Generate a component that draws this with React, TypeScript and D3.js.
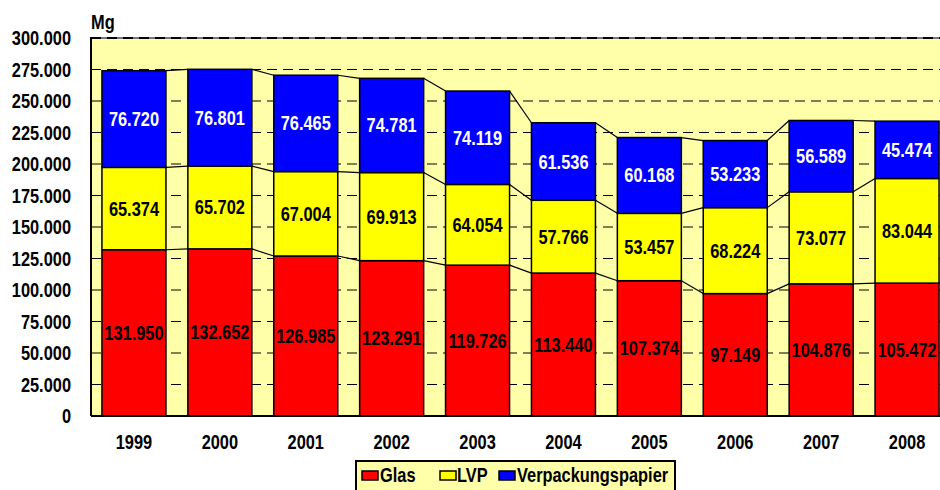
import React from 'react';
import * as d3 from 'd3';

const years = ['1999', '2000', '2001', '2002', '2003', '2004', '2005', '2006', '2007', '2008'];
const glas = [131950, 132652, 126985, 123291, 119726, 113440, 107374, 97149, 104876, 105472];
const lvp = [65374, 65702, 67004, 69913, 64054, 57766, 53457, 68224, 73077, 83044];
const papier = [76720, 76801, 76465, 74781, 74119, 61536, 60168, 53233, 56589, 45474];
const yTicks = [0, 25000, 50000, 75000, 100000, 125000, 150000, 175000, 200000, 225000, 250000, 275000, 300000];
const seriesNames = ['Glas', 'LVP', 'Verpackungspapier'];
const seriesColors = ['#FF0000', '#FFFF00', '#0000FF'];
const labelColors = ['#000', '#000', '#fff'];

const FONT = '"Liberation Sans", Arial, sans-serif';
const BG = '#FFFFAA';
const NARROW = 0.82; // no narrow font installed, squeeze Liberation Sans instead

const de = d3.formatLocale({decimal: ',', thousands: '.', grouping: [3], currency: ['', '€']});
const fmt = de.format(',d');

function NText(props: {x: number, y: number, size: number, anchor?: string, fill?: string, children: any}) {
  return (
    <text transform={`translate(${props.x},${props.y}) scale(${NARROW},1)`}
      textAnchor={props.anchor || 'start'} fontSize={props.size} fill={props.fill || '#000'}>
      {props.children}
    </text>
  );
}

export default function App() {
  const width = 940, height = 490;
  const left = 91, top = 38, bottom = 416;
  const plotRight = 950; // plot runs past the picture edge

  const x = d3.scaleBand<string>()
    .domain(years)
    .range([left, plotRight])
    .paddingInner(0.255)
    .paddingOuter(0.1275);
  const y = d3.scaleLinear().domain([0, 300000]).range([bottom, top]);

  const rows = years.map((yr, i) => ({year: yr, Glas: glas[i], LVP: lvp[i], Verpackungspapier: papier[i]}));
  const stacked = d3.stack<any>().keys(seriesNames)(rows);
  const bw = x.bandwidth();

  // connectors between tops of each segment
  const connectors: any[] = [];
  stacked.forEach((layer, si) => {
    for (let i = 0; i < years.length - 1; i++) {
      connectors.push(
        <line key={`c${si}-${i}`}
          x1={x(years[i])! + bw} y1={y(layer[i][1])}
          x2={x(years[i + 1])!} y2={y(layer[i + 1][1])}
          stroke="#000" strokeWidth={1.2} />
      );
    }
  });

  const legendItems = [
    {name: 'Glas', sx: 362, tx: 380},
    {name: 'LVP', sx: 440, tx: 457},
    {name: 'Verpackungspapier', sx: 499, tx: 517},
  ];

  return (
    <svg width={width} height={height} style={{position: 'absolute', left: 0, top: 0}}
      fontFamily={FONT} fontWeight="bold">
      <rect x={0} y={0} width={width} height={height} fill="#fff" />
      <rect x={left} y={top} width={plotRight - left} height={bottom - top} fill={BG} />

      {yTicks.filter(t => t > 0 && t < 300000).map(t => (
        <line key={`g${t}`} x1={left} x2={plotRight} y1={y(t)} y2={y(t)}
          stroke="#000" strokeWidth={1.2} strokeDasharray="10,6" />
      ))}
      <line x1={left} x2={plotRight} y1={y(300000)} y2={y(300000)} stroke="#777" strokeWidth={2} />
      <line x1={left} x2={plotRight} y1={y(300000)} y2={y(300000)} stroke="#000" strokeWidth={2} strokeDasharray="10,6" />

      {stacked.map((layer, si) => layer.map((d, i) => {
        const y0 = y(d[0]), y1 = y(d[1]);
        return (
          <g key={`b${si}-${i}`}>
            <rect x={x(years[i])} y={y1} width={bw} height={y0 - y1}
              fill={seriesColors[si]} stroke="#000" strokeWidth={1.5} />
            <NText x={x(years[i])! + bw / 2} y={(y0 + y1) / 2 + 7} anchor="middle"
              size={20} fill={labelColors[si]}>{fmt(d[1] - d[0])}</NText>
          </g>
        );
      }))}
      {connectors}

      <line x1={left} x2={left} y1={top - 1} y2={bottom} stroke="#000" strokeWidth={2} />
      <line x1={left} x2={plotRight} y1={bottom} y2={bottom} stroke="#000" strokeWidth={2} />

      {yTicks.map(t => (
        <NText key={`t${t}`} x={71} y={y(t) + 7} anchor="end" size={20}>{fmt(t)}</NText>
      ))}
      <NText x={91} y={29} size={20}>Mg</NText>

      {years.map(yr => (
        <NText key={`x${yr}`} x={x(yr)! + bw / 2} y={449} anchor="middle" size={20}>{yr}</NText>
      ))}

      <rect x={356} y={461} width={319} height={32} fill={BG} stroke="#000" strokeWidth={2} />
      {legendItems.map((it, i) => (
        <g key={it.name}>
          <rect x={it.sx} y={471} width={16} height={9} fill={seriesColors[i]} stroke="#000" strokeWidth={1.5} />
          <NText x={it.tx} y={482} size={20}>{it.name}</NText>
        </g>
      ))}
    </svg>
  );
}
